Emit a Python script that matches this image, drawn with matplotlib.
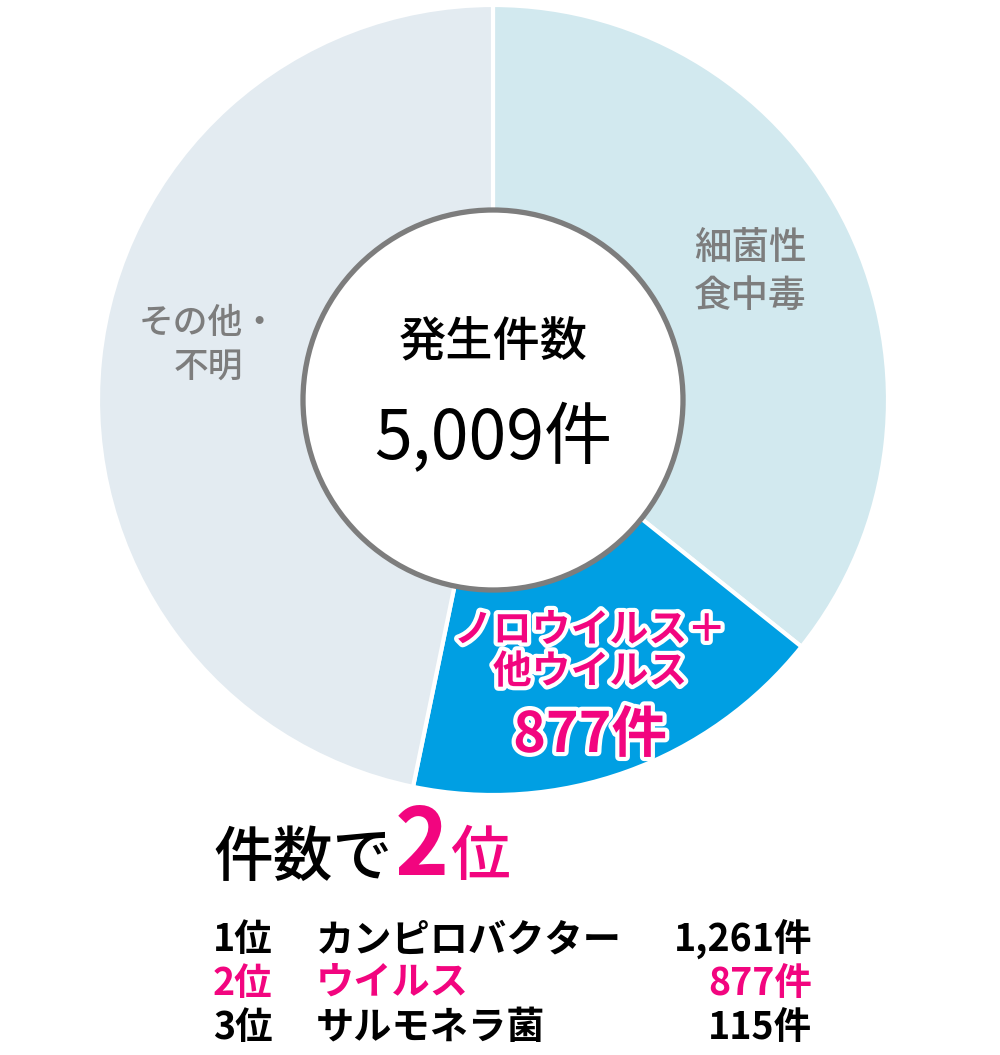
import matplotlib
matplotlib.use("Agg")
import matplotlib.pyplot as plt
import matplotlib.patheffects as pe
from matplotlib.patches import Circle

plt.rcParams['font.family'] = ['Noto Sans CJK JP', 'DejaVu Sans']

# data
categories = ['細菌性\n食中毒', 'ノロウイルス＋\n他ウイルス', 'その他・\n不明']
counts = [1790, 877, 2342]
total_label = '5,009件'
ranks = ['1位', '2位', '3位']
rank_names = ['カンピロバクター', 'ウイルス', 'サルモネラ菌']
rank_counts = ['1,261件', '877件', '115件']

colors = ['#d2e9ef', '#009fe3', '#e3ebf1']
pink = '#f2057f'
gray = '#7d7d7d'

W, H = 1000, 1055
fig = plt.figure(figsize=(W / 100, H / 100), dpi=100)
ax = fig.add_axes([0, 0, 1, 1])

def Y(y):
    return H - y

cx, cy = 493, Y(400)
ax.pie(counts, colors=colors, startangle=90, counterclock=False,
       center=(cx, cy), radius=395,
       wedgeprops=dict(edgecolor='white', linewidth=3))
ax.set_xlim(0, W)
ax.set_ylim(0, H)
ax.set_aspect('equal')
ax.axis('off')

ax.add_patch(Circle((cx, cy), 190, facecolor='white', edgecolor=gray,
                    linewidth=3.8, zorder=5))

ax.text(cx, Y(343), '発生件数', ha='center', va='center', fontsize=34,
        fontweight='medium', zorder=6)
ax.text(cx, Y(440), total_label, ha='center', va='center', fontsize=49,
        zorder=6)

# slice labels
ax.text(750, Y(272), categories[0], ha='center', va='center', fontsize=27,
        color=gray, fontweight='medium', linespacing=1.3)
ax.text(208, Y(345), categories[2], ha='center', va='center', fontsize=25,
        color=gray, fontweight='medium', linespacing=1.25)

outline = [pe.withStroke(linewidth=6, foreground='white')]
ax.text(590, Y(651), categories[1], ha='center', va='center', fontsize=28,
        color=pink, fontweight='bold', linespacing=1.08, path_effects=outline)
ax.text(590, Y(736), '877件', ha='center', va='center', fontsize=40,
        color=pink, fontweight='bold', path_effects=outline)

# ranking block
t = ax.text(213, Y(858), '件数で', ha='left', va='center', fontsize=43,
            color='black', fontweight='medium')
fig.canvas.draw()
bb = t.get_window_extent().transformed(ax.transData.inverted())
t2 = ax.text(bb.x1 + 2, Y(848), '2', ha='left', va='center', fontsize=66,
             color=pink, fontweight='bold')
fig.canvas.draw()
bb2 = t2.get_window_extent().transformed(ax.transData.inverted())
ax.text(bb2.x1 + 2, Y(858), '位', ha='left', va='center', fontsize=43,
        color=pink, fontweight='medium')

row_y = [940, 983, 1027]
for i in range(3):
    c = pink if i == 1 else 'black'
    ax.text(213, Y(row_y[i]), ranks[i], ha='left', va='center', fontsize=27,
            color=c, fontweight='bold')
    ax.text(316, Y(row_y[i]), rank_names[i], ha='left', va='center',
            fontsize=27.5, color=c, fontweight='bold')
    ax.text(812, Y(row_y[i]), rank_counts[i], ha='right', va='center',
            fontsize=27, color=c, fontweight='bold')

fig.savefig('out.png', dpi=100, facecolor='white')
